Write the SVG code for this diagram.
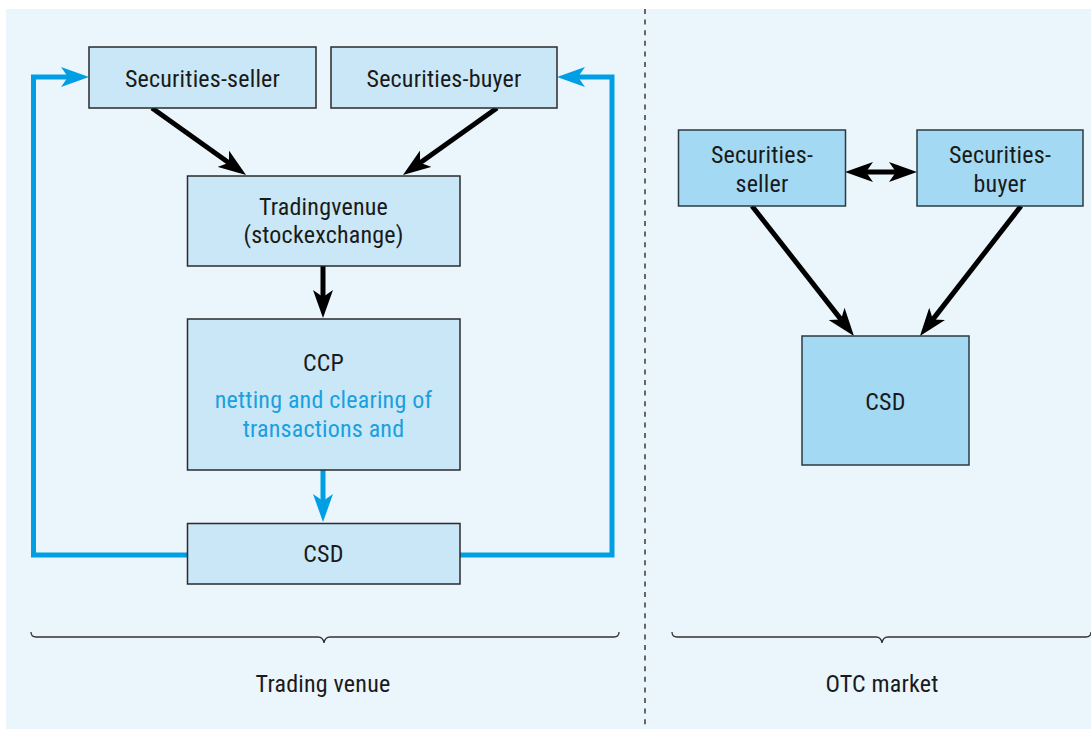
<svg xmlns="http://www.w3.org/2000/svg" width="1091" height="729" viewBox="0 0 1091 729">
<defs>
<style>
.t{font-family:"Liberation Sans Narrow","Roboto Condensed","Liberation Sans",sans-serif;font-size:24px;fill:#1a1a1a;text-anchor:middle;letter-spacing:0.2px}
.bt{fill:#1a9fe0}
.bx{fill:#c9e7f7;stroke:#2b2b2b;stroke-width:1.5}
.ox{fill:#a3d9f3;stroke:#2b3a42;stroke-width:1.5}
.ak{fill:none;stroke:#000;stroke-width:5}
.ab{fill:none;stroke:#009fe3;stroke-width:5}
.br{fill:none;stroke:#333;stroke-width:1.3}
</style>
<marker id="hk" viewBox="0 0 28 20" markerUnits="userSpaceOnUse" markerWidth="28" markerHeight="20" refX="18" refY="10" orient="auto-start-reverse"><path d="M0,0 L28,10 L0,20 L7,10 z" fill="#000"/></marker>
<marker id="hb" viewBox="0 0 28 20" markerUnits="userSpaceOnUse" markerWidth="28" markerHeight="20" refX="18" refY="10" orient="auto"><path d="M0,0 L28,10 L0,20 L7,10 z" fill="#009fe3"/></marker>
</defs>
<rect x="0" y="0" width="1091" height="729" fill="#fff"/>
<rect x="6" y="9" width="1085" height="720" fill="#eaf5fc"/>
<line x1="645" y1="9" x2="645" y2="729" stroke="#444" stroke-width="1.6" stroke-dasharray="5,5.6"/>

<g id="connectors">
<path class="ab" d="M187,555 H33.5 V77 H79" marker-end="url(#hb)"/>
<path class="ab" d="M460,555 H612 V77 H567" marker-end="url(#hb)"/>
<line class="ab" x1="323" y1="470" x2="323" y2="512" marker-end="url(#hb)"/>
<line class="ak" x1="152" y1="108" x2="237.9" y2="169.2" marker-end="url(#hk)"/>
<line class="ak" x1="497" y1="108" x2="411.1" y2="169.2" marker-end="url(#hk)"/>
<line class="ak" x1="323" y1="266" x2="323" y2="308" marker-end="url(#hk)"/>
<line class="ak" x1="855" y1="172" x2="907" y2="172" marker-start="url(#hk)" marker-end="url(#hk)"/>
<line class="ak" x1="752" y1="206" x2="847.8" y2="328.1" marker-end="url(#hk)"/>
<line class="ak" x1="1021" y1="206" x2="926.1" y2="328.1" marker-end="url(#hk)"/>
</g>

<g id="seller"><rect class="bx" x="89" y="47" width="227" height="61"/><text class="t" x="202.5" y="87">Securities-seller</text></g>
<g id="buyer"><rect class="bx" x="331" y="47" width="226" height="61"/><text class="t" x="444" y="87">Securities-buyer</text></g>
<g id="venue"><rect class="bx" x="187.5" y="176" width="272.5" height="90"/><text class="t" x="323.5" y="215">Tradingvenue</text><text class="t" x="323.5" y="243">(stockexchange)</text></g>
<g id="ccp"><rect class="bx" x="187.5" y="319" width="272.5" height="151"/><text class="t" x="323.5" y="371">CCP</text><text class="t bt" x="323.5" y="408">netting and clearing of</text><text class="t bt" x="323.5" y="437">transactions and</text></g>
<g id="csd"><rect class="bx" x="187.5" y="523.5" width="272.5" height="60.5"/><text class="t" x="323.5" y="562">CSD</text></g>

<g id="otc-seller"><rect class="ox" x="678.5" y="130" width="167" height="76"/><text class="t" x="762" y="163">Securities-</text><text class="t" x="762" y="192">seller</text></g>
<g id="otc-buyer"><rect class="ox" x="917" y="130" width="166" height="76"/><text class="t" x="1000" y="163">Securities-</text><text class="t" x="1000" y="192">buyer</text></g>
<g id="otc-csd"><rect class="ox" x="802" y="336" width="167" height="129"/><text class="t" x="885.5" y="410">CSD</text></g>

<g id="brace-venue"><path class="br" d="M31,632 Q31,637 36,637 H318 Q323,637 324,643 Q325,637 330,637 H614 Q619,637 619,632"/><text class="t" x="323" y="692">Trading venue</text></g>
<g id="brace-otc"><path class="br" d="M672,632 Q672,637 677,637 H876 Q881,637 882,643 Q883,637 888,637 H1086 Q1091,637 1091,632"/><text class="t" x="882" y="692">OTC market</text></g>
</svg>
